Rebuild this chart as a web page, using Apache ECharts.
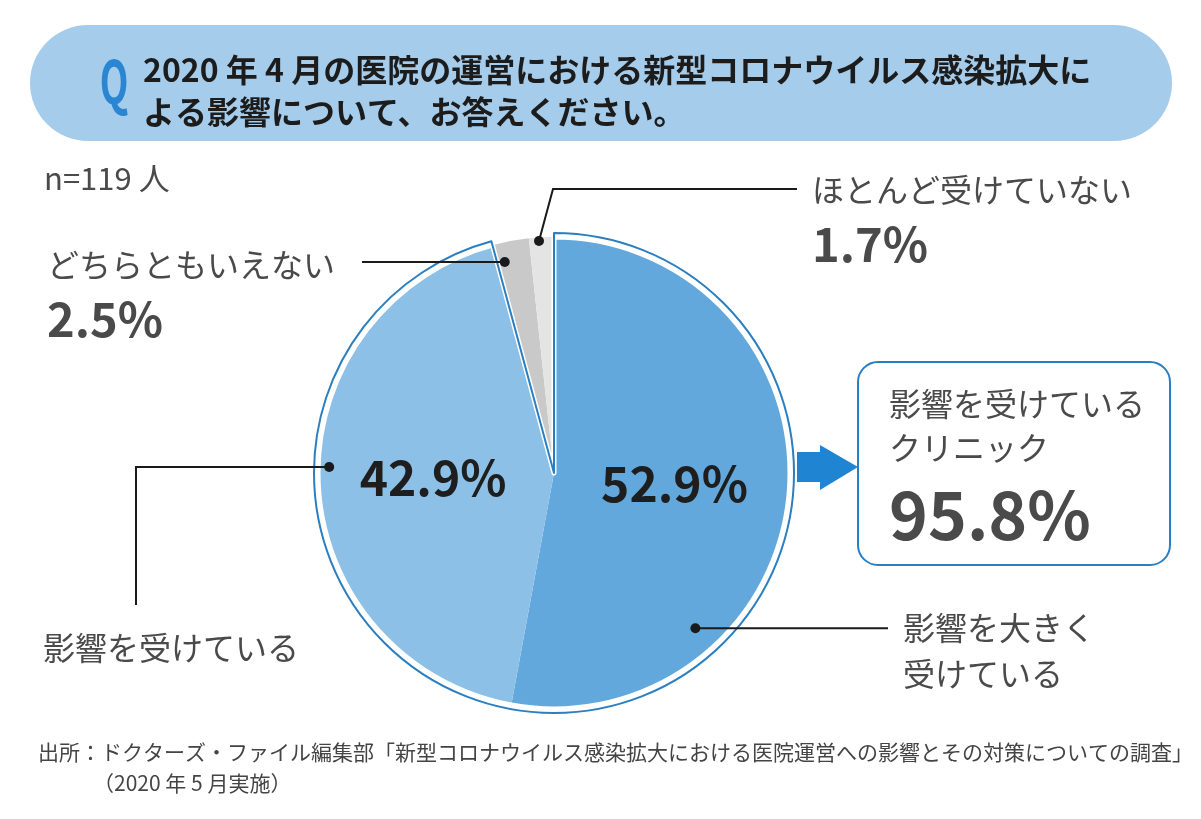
<!DOCTYPE html>
<html>
<head>
<meta charset="utf-8">
<script src="https://cdn.jsdelivr.net/npm/echarts@6/dist/echarts.min.js"></script>
<style>
html,body{margin:0;padding:0;background:#fff;}
#chart{width:1201px;height:819px;}
</style>
</head>
<body>
<div id="chart"></div>
<script>
// ---- data ----
const categories = ['影響を大きく\n受けている', '影響を受けている', 'どちらともいえない', 'ほとんど受けていない'];
const values = [52.9, 42.9, 2.5, 1.7];
const affectedCount = 2; // first two categories = "影響を受けているクリニック"
const titleLines = ['2020 年 4 月の医院の運営における新型コロナウイルス感染拡大に', 'よる影響について、お答えください。'];
const sampleText = 'n=119 人';
const boxLines = ['影響を受けている', 'クリニック'];
const sourceLines = ['出所：ドクターズ・ファイル編集部「新型コロナウイルス感染拡大における医院運営への影響とその対策についての調査」', '（2020 年 5 月実施）'];

// ---- style / layout ----
const colors = ['#62a8dc', '#8dc0e7', '#c9c9c9', '#e4e4e4'];
const FONT = '"Noto Sans CJK JP", "Noto Sans", sans-serif';
const TEXT = '#4a4a4a';
const CX = 554, CY = 473, R = 236, R_OUT = 240;
// anchor of each leader line: [fraction along slice angle, fraction of radius]
const anchorPos = [[0.723, 0.89], [0.525, 0.953], [0.22, 0.918], [0.395, 0.985]];

const total = values.reduce((a, b) => a + b, 0);
const affectedTotal = values.slice(0, affectedCount).reduce((a, b) => a + b, 0);
const otherTotal = total - affectedTotal;

function anchor(i) {
  let before = 0;
  for (let k = 0; k < i; k++) before += values[k];
  const start = 90 - 360 * before / total;
  const span = 360 * values[i] / total;
  const th = (start - span * anchorPos[i][0]) * Math.PI / 180;
  const r = R * anchorPos[i][1];
  return [CX + r * Math.cos(th), CY - r * Math.sin(th)];
}
const anchors = values.map((v, i) => anchor(i));

const labelPlace = [
  (a) => ({x: 903, y: 605, align: 'left', verticalAlign: 'top', pts: [a, [790, a[1]], [888, a[1]]]}),
  (a) => ({x: 43, y: 648, align: 'left', verticalAlign: 'middle', pts: [a, [136, a[1]], [136, 605]]}),
  (a) => ({x: 47, y: 242, align: 'left', verticalAlign: 'top', pts: [a, [430, a[1]], [362, a[1]]]}),
  (a) => ({x: 812, y: 167, align: 'left', verticalAlign: 'top', pts: [a, [553, 189], [797, 189]]})
];
const places = anchors.map((a, i) => labelPlace[i](a));

const chart = echarts.init(document.getElementById('chart'), null, {renderer: 'canvas'});

const graphics = [
  {type: 'rect', shape: {x: 30, y: 25, width: 1142, height: 116, r: 58}, style: {fill: '#a5cceb'}, z: 1},
  {type: 'text', x: 114, y: 81, scaleX: 0.62,
    style: {text: 'Q', font: 'bold 60px ' + FONT, fill: '#2a86d0', align: 'center', verticalAlign: 'middle'}, z: 2},
  {type: 'text', x: 143, y: 70, style: {text: titleLines[0], font: 'bold 32px ' + FONT, fill: '#1c1c1c', verticalAlign: 'middle'}, z: 2},
  {type: 'text', x: 143, y: 112, style: {text: titleLines[1], font: 'bold 32px ' + FONT, fill: '#1c1c1c', verticalAlign: 'middle'}, z: 2},
  {type: 'text', x: 44, y: 178, style: {text: sampleText, font: '31px ' + FONT, fill: TEXT, verticalAlign: 'middle'}, z: 2},
  {type: 'polygon', shape: {points: [[797, 452], [820, 452], [820, 445], [858, 467], [820, 490], [820, 482], [797, 482]]},
    style: {fill: '#1f84d1'}, z: 1},
  {type: 'rect', shape: {x: 858, y: 362, width: 312, height: 203, r: 20}, style: {fill: '#fff', stroke: '#2b7fc1', lineWidth: 2}, z: 2},
  {type: 'text', x: 889, y: 404, style: {text: boxLines[0], font: '32px ' + FONT, fill: TEXT, verticalAlign: 'middle'}, z: 3},
  {type: 'text', x: 889, y: 448, style: {text: boxLines[1], font: '32px ' + FONT, fill: TEXT, verticalAlign: 'middle'}, z: 3},
  {type: 'text', x: 889, y: 515, style: {text: affectedTotal.toFixed(1) + '%', font: 'bold 66px ' + FONT, fill: TEXT, verticalAlign: 'middle'}, z: 3},
  {type: 'text', x: 38, y: 752, style: {text: sourceLines[0], font: '21px ' + FONT, fill: '#444', verticalAlign: 'middle'}, z: 2},
  {type: 'text', x: 93, y: 783, style: {text: sourceLines[1], font: '21px ' + FONT, fill: '#444', verticalAlign: 'middle'}, z: 2}
];
// leader lines and their end dots (above the pie)
places.forEach(p => graphics.push({type: 'polyline', shape: {points: p.pts},
  style: {stroke: '#1a1a1a', lineWidth: 2, fill: null}, z: 100}));
anchors.forEach(a => graphics.push({type: 'circle', shape: {cx: a[0], cy: a[1], r: 5}, style: {fill: '#1a1a1a'}, z: 101}));

const pieBase = {type: 'pie', center: [CX, CY], startAngle: 90, clockwise: true, silent: true,
  avoidLabelOverlap: false, animation: false, emphasis: {disabled: true}};

chart.setOption({
  backgroundColor: '#fff',
  animation: false,
  graphic: graphics,
  series: [
    Object.assign({}, pieBase, {
      name: 'main', radius: R, z: 2,
      data: categories.map((c, i) => ({name: c, value: values[i], itemStyle: {color: colors[i], borderWidth: 0}})),
      label: {
        show: true, position: 'outside',
        formatter: (p) => {
          const lines = p.name.split('\n').map(s => '{n|' + s + '}');
          if (p.dataIndex >= affectedCount) lines.push('{p|' + p.value.toFixed(1) + '%}');
          return lines.join('\n');
        },
        rich: {
          n: {fontSize: 32, lineHeight: 46, color: TEXT, fontFamily: FONT},
          p: {fontSize: 47, lineHeight: 62, fontWeight: 'bold', color: TEXT, fontFamily: FONT}
        }
      },
      labelLine: {show: false},
      labelLayout: (params) => {
        const L = places[params.dataIndex];
        return {x: L.x, y: L.y, align: L.align, verticalAlign: L.verticalAlign};
      }
    }),
    Object.assign({}, pieBase, {
      name: 'gap', radius: R, z: 3, label: {show: false}, labelLine: {show: false},
      data: [
        {value: affectedTotal, itemStyle: {color: 'rgba(0,0,0,0)', borderColor: '#ffffff', borderWidth: 5}},
        {value: otherTotal, itemStyle: {color: 'rgba(0,0,0,0)', borderWidth: 0}}
      ]
    }),
    Object.assign({}, pieBase, {
      name: 'outline', radius: R_OUT, z: 4, label: {show: false}, labelLine: {show: false},
      data: [
        {value: affectedTotal, itemStyle: {color: 'rgba(0,0,0,0)', borderColor: '#2b7fc1', borderWidth: 2}},
        {value: otherTotal, itemStyle: {color: 'rgba(0,0,0,0)', borderWidth: 0}}
      ]
    }),
    Object.assign({}, pieBase, {
      name: 'pct', radius: R, z: 5, labelLine: {show: false},
      data: categories.map((c, i) => ({name: c, value: values[i], itemStyle: {color: 'rgba(0,0,0,0)', borderWidth: 0}})),
      label: {
        show: true, position: 'inside',
        formatter: (p) => p.dataIndex < affectedCount ? p.value.toFixed(1) + '%' : '',
        fontSize: 48, fontWeight: 'bold', color: '#1e1e1e', fontFamily: FONT
      }
    })
  ]
});
</script>
</body>
</html>
